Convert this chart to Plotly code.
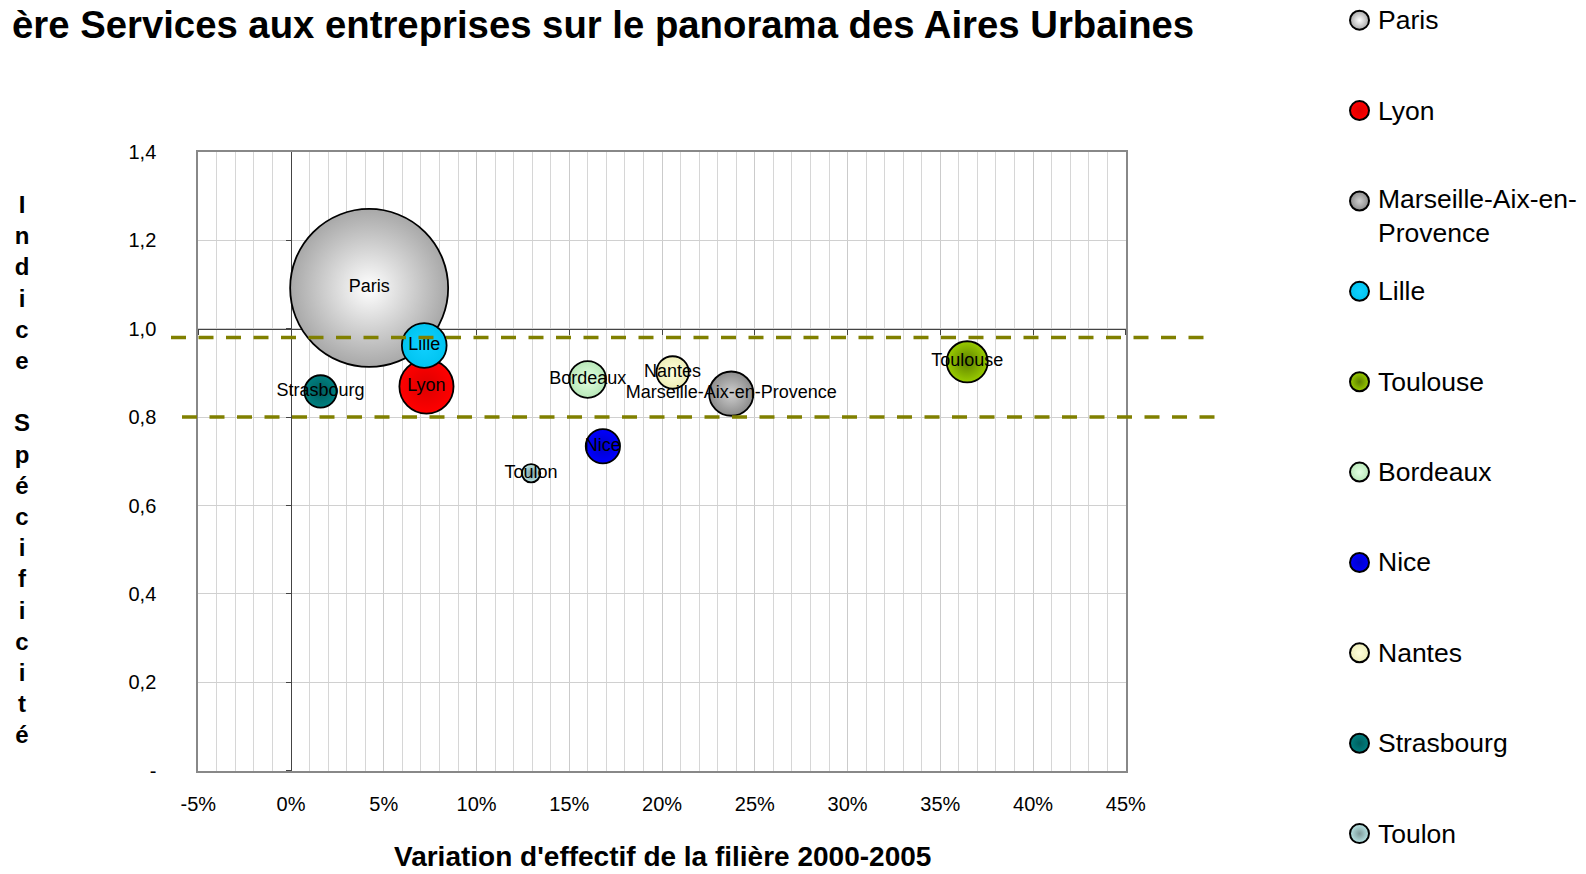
import plotly.graph_objects as go

# ---------------- data ----------------
cities = ["Paris", "Lyon", "Marseille-Aix-en-Provence", "Lille", "Toulouse",
          "Bordeaux", "Nice", "Nantes", "Strasbourg", "Toulon"]
legend_labels = ["Paris", "Lyon", "Marseille-Aix-en-<br>Provence", "Lille", "Toulouse",
                 "Bordeaux", "Nice", "Nantes", "Strasbourg", "Toulon"]
variation_pct = [4.21, 7.30, 23.73, 7.18, 36.45, 15.99, 16.81, 20.57, 1.59, 12.94]
indice_specificite = [1.092, 0.869, 0.853, 0.962, 0.925, 0.885, 0.734, 0.901, 0.858, 0.673]
effectif = [620000, 72800, 48600, 49700, 42000, 33600, 29200, 25900, 25900, 8400]
edge_colors = ["#A8A8A8", "#FF0000", "#8C8C8C", "#00C4F0", "#99CC00",
               "#B8E8B8", "#0000FF", "#EEEEB8", "#008080", "#B8E6E6"]
center_colors = ["#FFFFFF", "#DD0000", "#CFCFCF", "#10D0FF", "#5E8000",
                 "#E2FFE2", "#0000C8", "#FFFFDC", "#005E5E", "#7F9A9A"]
x_tickvals = [-5, 0, 5, 10, 15, 20, 25, 30, 35, 40, 45]
x_ticktext = ["-5%", "0%", "5%", "10%", "15%", "20%", "25%", "30%", "35%", "40%", "45%"]
y_tickvals = [0, 0.2, 0.4, 0.6, 0.8, 1.0, 1.2, 1.4]
y_ticktext = ["-", "0,2", "0,4", "0,6", "0,8", "1,0", "1,2", "1,4"]
ref_lines = [0.98, 0.80]
axis_cross = (0, 1.0)  # y axis crosses at x=0, x axis crosses at y=1.0

# ---------------- layout constants ----------------
W, H = 1586, 874
XR = [-5, 45]
YR = [0, 1.4]
xdom = [198.3 / W, 1125.8 / W]
ydom = [1 - 770.9 / H, 1 - 151.7 / H]
FONT = "Liberation Sans, Arial, sans-serif"

fig = go.Figure()

# bubbles
fig.add_trace(go.Scatter(
    x=variation_pct, y=indice_specificite, mode="markers+text",
    text=cities, textposition="middle center",
    textfont=dict(family=FONT, size=18, color="black"),
    marker=dict(size=effectif, sizemode="area", sizeref=2 * max(effectif) / 158 ** 2,
                color=edge_colors, gradient=dict(type="radial", color=center_colors),
                line=dict(color="black", width=1.8), opacity=1),
    cliponaxis=False, showlegend=False, hovertext=cities, hoverinfo="text+x+y",
))

# dummy trace to host crossing axes
fig.add_trace(go.Scatter(x=[axis_cross[0]], y=[axis_cross[1]], xaxis="x3", yaxis="y3",
                         mode="markers", marker=dict(opacity=0), hoverinfo="skip",
                         showlegend=False))

# manual legend
n = len(cities)
step_px = 90.38
top_px = 20.2
r0 = -top_px / step_px
r1 = r0 + H / step_px
legend_x = 1359.5
fig.add_trace(go.Scatter(
    x=[legend_x] * n, y=list(range(n)), xaxis="x2", yaxis="y2", mode="markers",
    marker=dict(size=19, color=edge_colors, gradient=dict(type="radial", color=center_colors),
                line=dict(color="black", width=2)),
    hoverinfo="skip", showlegend=False, cliponaxis=False,
))

annotations = []
for i, lab in enumerate(legend_labels):
    two = "<br>" in lab
    annotations.append(dict(
        x=1376, y=i, xref="x2", yref="y2", text=lab, showarrow=False,
        xanchor="left", yanchor="top" if two else "middle", yshift=19 if two else 0,
        align="left", font=dict(family=FONT, size=26.5, color="black"),
    ))

# title
annotations.append(dict(
    x=1196 / W, y=1 - 25 / H, xref="paper", yref="paper", xanchor="right", yanchor="middle",
    text="<b>ère Services aux entreprises sur le panorama des Aires Urbaines</b>",
    showarrow=False, font=dict(family=FONT, size=38.3, color="black"),
))
# x axis title
annotations.append(dict(
    x=(xdom[0] + xdom[1]) / 2, y=1 - 856 / H, xref="paper", yref="paper",
    xanchor="center", yanchor="middle",
    text="<b>Variation d'effectif de la filière 2000-2005</b>",
    showarrow=False, font=dict(family=FONT, size=28, color="black"),
))
# y axis title (stacked letters)
ytitle = "Indice Spécificité"
annotations.append(dict(
    x=22.3 / W, y=1 - 469 / H, xref="paper", yref="paper", xanchor="center", yanchor="middle",
    text="<b>" + "<br>".join(ch if ch != " " else " " for ch in ytitle) + "</b>",
    showarrow=False, align="center", font=dict(family=FONT, size=24, color="black"),
))

# dashed reference lines (extend beyond plot area like in original)
shapes = []
for yv, (xa, xb) in zip(ref_lines, [(171 / W, 1213 / W), (182 / W, 1224 / W)]):
    shapes.append(dict(type="line", xref="paper", yref="y", x0=xa, x1=xb, y0=yv, y1=yv,
                       line=dict(color="#808000", width=3.6, dash="15px,12.5px"), layer="above"))

xpos_cross = xdom[0] + (axis_cross[0] - XR[0]) / (XR[1] - XR[0]) * (xdom[1] - xdom[0])
ypos_cross = ydom[0] + (axis_cross[1] - YR[0]) / (YR[1] - YR[0]) * (ydom[1] - ydom[0])

fig.update_layout(
    width=W, height=H, margin=dict(l=0, r=0, t=0, b=0, pad=0, autoexpand=False),
    paper_bgcolor="white", plot_bgcolor="rgba(0,0,0,0)",
    showlegend=False, font=dict(family=FONT, color="black"),
    xaxis=dict(domain=xdom, range=XR, tickmode="array", tickvals=x_tickvals, ticktext=x_ticktext,
               showgrid=True, gridcolor="#CBCBCB", gridwidth=1, zeroline=False,
               showline=True, linecolor="#888888", linewidth=2, mirror=True, ticks="",
               ticklabelstandoff=14, tickfont=dict(family=FONT, size=20, color="black"),
               minor=dict(dtick=1, tick0=0, showgrid=True, gridcolor="#D6D6D6", gridwidth=1),
               fixedrange=True, anchor="y", automargin=False),
    yaxis=dict(domain=ydom, range=YR, tickmode="array", tickvals=y_tickvals, ticktext=y_ticktext,
               showgrid=True, gridcolor="#D0D0D0", gridwidth=1, zeroline=False,
               showline=True, linecolor="#888888", linewidth=2, mirror=True, ticks="",
               ticklabelstandoff=36, tickfont=dict(family=FONT, size=20, color="black"),
               fixedrange=True, anchor="x", automargin=False),
    xaxis3=dict(overlaying="x", anchor="free", position=ypos_cross, domain=xdom, range=XR,
                showline=True, linecolor="#444444", linewidth=1, ticks="outside", ticklen=5,
                tickcolor="#444444", tickmode="linear", tick0=0, dtick=5, showticklabels=False,
                showgrid=False, zeroline=False, layer="below traces", fixedrange=True,
                automargin=False),
    yaxis3=dict(overlaying="y", anchor="free", position=xpos_cross, domain=ydom, range=YR,
                showline=True, linecolor="#444444", linewidth=1, ticks="outside", ticklen=5,
                tickcolor="#444444", tickmode="linear", tick0=0, dtick=0.2, showticklabels=False,
                showgrid=False, zeroline=False, layer="below traces", side="left", fixedrange=True,
                automargin=False),
    xaxis2=dict(domain=[0.8, 1.0], range=[0.8 * W, W], visible=False, fixedrange=True,
                anchor="y2", automargin=False),
    yaxis2=dict(domain=[0, 1], range=[r1, r0], visible=False, fixedrange=True, anchor="x2",
                automargin=False),
    annotations=annotations, shapes=shapes,
)

fig.write_html("out.html", config={"displayModeBar": False},
               post_script="document.body.style.margin='0';document.body.style.overflow='hidden';")
